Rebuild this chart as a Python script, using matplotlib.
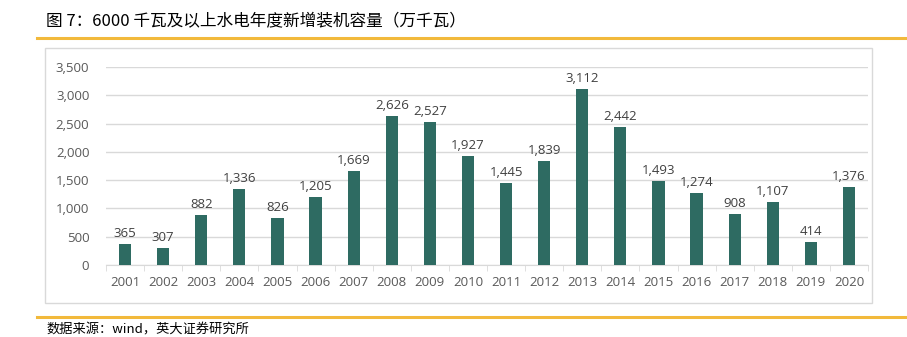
import numpy as np
import matplotlib.pyplot as plt
from matplotlib.patches import Rectangle
from matplotlib.lines import Line2D

years = ['2001', '2002', '2003', '2004', '2005', '2006', '2007', '2008', '2009', '2010',
         '2011', '2012', '2013', '2014', '2015', '2016', '2017', '2018', '2019', '2020']
capacity = [365, 307, 882, 1336, 826, 1205, 1669, 2626, 2527, 1927,
            1445, 1839, 3112, 2442, 1493, 1274, 908, 1107, 414, 1376]
yticks = [0, 500, 1000, 1500, 2000, 2500, 3000, 3500]

title = '图 7：6000 千瓦及以上水电年度新增装机容量（万千瓦）'
source = '数据来源：wind，英大证券研究所'

plt.rcParams['font.family'] = ['Open Sans', 'Noto Sans CJK SC', 'DejaVu Sans']

W, H = 907, 337
fig = plt.figure(figsize=(W / 100, H / 100), dpi=100)

# outer chart box
fig.patches.append(Rectangle((45 / W, 1 - 303 / H), (872 - 45) / W, (303 - 48) / H,
                             transform=fig.transFigure, fill=False,
                             edgecolor='#D9D9D9', linewidth=1.0))
# orange rules
for yy in (38, 317):
    fig.lines.append(Line2D([37 / W, 905 / W], [1 - yy / H, 1 - yy / H],
                            transform=fig.transFigure, color='#F2B93B', linewidth=2.2))

fig.text(46 / W, 1 - 22 / H, title, fontsize=12, color='#000000', va='center', ha='left',
         family=['Noto Sans CJK SC', 'DejaVu Sans'])
fig.text(46 / W, 1 - 330 / H, source, fontsize=9.5, color='#000000', va='center', ha='left',
         family=['Noto Sans CJK SC', 'DejaVu Sans'])

ax = fig.add_axes([106 / W, 1 - 265 / H, (868 - 106) / W, (265 - 67) / H])
x = np.arange(len(years))
bars = ax.bar(x, capacity, width=0.32, color='#2E6B62', zorder=3)

for xi, v in zip(x, capacity):
    ax.text(xi, v + 70, f'{v:,}', ha='center', va='bottom', fontsize=9.5, color='#404040')

ax.set_ylim(0, 3500)
ax.set_xlim(-0.5, len(years) - 0.5)
ax.set_yticks(yticks)
ax.set_yticklabels([f'{t:,}' for t in yticks])
ax.set_xticks(x)
ax.set_xticklabels(years)
ax.set_xticks(np.arange(-0.5, len(years)), minor=True)
ax.tick_params(axis='x', which='major', length=0, pad=8, labelsize=9.5, labelcolor='#595959')
ax.tick_params(axis='x', which='minor', length=4, color='#D9D9D9', direction='out')
ax.tick_params(axis='y', length=0, pad=12, labelsize=9.5, labelcolor='#595959')
ax.grid(axis='y', color='#D9D9D9', linewidth=1.0, zorder=0)
for s in ['top', 'right', 'left']:
    ax.spines[s].set_visible(False)
ax.spines['bottom'].set_color('#D9D9D9')
ax.patch.set_alpha(0)

fig.savefig('out.png', dpi=100)
